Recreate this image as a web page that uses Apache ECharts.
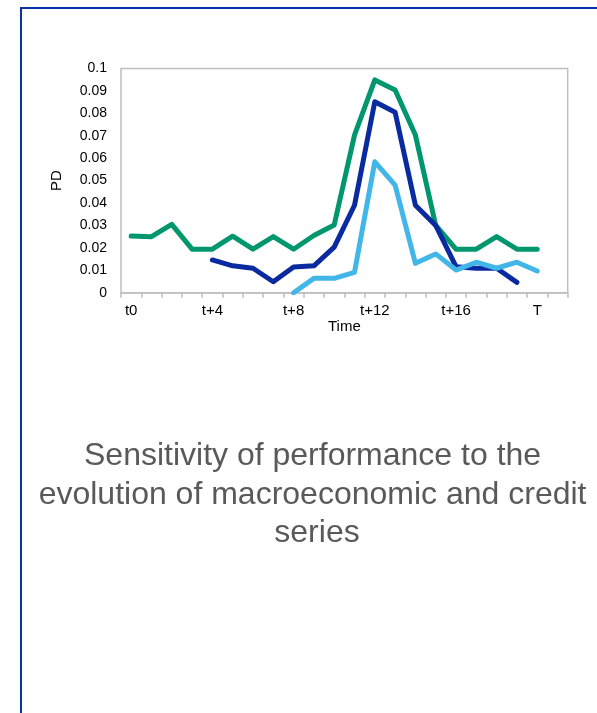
<!DOCTYPE html>
<html>
<head>
<meta charset="utf-8">
<script src="https://cdn.jsdelivr.net/npm/echarts@6/dist/echarts.min.js"></script>
<style>
  html, body { margin: 0; padding: 0; background: #ffffff; }
  #chart { width: 597px; height: 713px; }
</style>
</head>
<body>
<div id="chart"></div>
<script>
// Time periods (22 slots; labels shown every fourth)
const periods = ['t0', 't+1', 't+2', 't+3', 't+4', 't+5', 't+6', 't+7', 't+8', 't+9', 't+10',
  't+11', 't+12', 't+13', 't+14', 't+15', 't+16', 't+17', 't+18', 't+19', 'T', ''];

// PD paths
const pdGreen = [0.0253, 0.025, 0.0305, 0.0194, 0.0194, 0.0252, 0.0194, 0.025, 0.0194, 0.0255,
  0.0302, 0.0703, 0.0949, 0.0904, 0.0703, 0.030, 0.0194, 0.0194, 0.025, 0.0194, 0.0194, null];
const pdNavy = [null, null, null, null, 0.0146, 0.012, 0.0109, 0.0049, 0.0115, 0.012,
  0.0203, 0.039, 0.0852, 0.0805, 0.039, 0.030, 0.0116, 0.0109, 0.0109, 0.0046, null, null];
const pdLight = [null, null, null, null, null, null, null, null, 0.0, 0.0064,
  0.0064, 0.0091, 0.0584, 0.048, 0.0131, 0.0173, 0.0101, 0.0136, 0.0109, 0.0136, 0.0097, null];

// Caption lines (the first two keep their trailing space, as typed)
const titleLines = ['Sensitivity of performance to the ', 'evolution of macroeconomic and credit ', 'series'];

const chart = echarts.init(document.getElementById('chart'), null, { renderer: 'canvas' });

const fontFamily = 'Liberation Sans, Arial, sans-serif';

function lineSeries(name, data, color) {
  return {
    name: name,
    type: 'line',
    data: data,
    showSymbol: false,
    symbol: 'none',
    connectNulls: false,
    lineStyle: { color: color, width: 5, join: 'round', cap: 'round' },
    itemStyle: { color: color },
    z: 3
  };
}

chart.setOption({
  animation: false,
  backgroundColor: '#ffffff',
  title: {
    text: titleLines.join('\n'),
    left: 312,
    top: 432,
    textAlign: 'center',
    textStyle: {
      fontFamily: fontFamily,
      fontSize: 32,
      fontWeight: 'normal',
      color: '#595959',
      lineHeight: 38.5
    }
  },
  graphic: [{
    type: 'rect',
    shape: { x: 21, y: 8, width: 700, height: 800 },
    style: { fill: 'none', stroke: '#0a32a8', lineWidth: 2 },
    silent: true,
    z: 10
  }],
  grid: {
    left: 121,
    top: 68.5,
    right: 29.3,
    bottom: 420.3,
    show: true,
    borderColor: '#c0c0c0',
    borderWidth: 1.5,
    backgroundColor: 'transparent'
  },
  xAxis: {
    type: 'category',
    data: periods,
    boundaryGap: true,
    name: 'Time',
    nameLocation: 'middle',
    nameGap: 22,
    nameTextStyle: { fontFamily: fontFamily, fontSize: 15, color: '#000000' },
    axisLine: { show: true, lineStyle: { color: '#bfbfbf', width: 1.5 } },
    axisTick: { show: true, interval: 0, length: 5, alignWithLabel: false, lineStyle: { color: '#bfbfbf', width: 1.5 } },
    axisLabel: {
      interval: 3,
      margin: 11,
      fontFamily: fontFamily,
      fontSize: 15,
      color: '#000000'
    },
    splitLine: { show: false }
  },
  yAxis: {
    type: 'value',
    min: 0,
    max: 0.1,
    interval: 0.01,
    name: 'PD',
    nameLocation: 'middle',
    nameGap: 57,
    nameRotate: 90,
    nameTextStyle: { fontFamily: fontFamily, fontSize: 15, color: '#000000' },
    axisLine: { show: false },
    axisTick: { show: false },
    splitLine: { show: false },
    axisLabel: {
      margin: 14,
      fontFamily: fontFamily,
      fontSize: 14,
      color: '#000000',
      formatter: function (v) { return String(Math.round(v * 100) / 100); }
    }
  },
  series: [
    lineSeries('Scenario A', pdGreen, '#00966e'),
    lineSeries('Scenario B', pdNavy, '#0a2aa0'),
    lineSeries('Scenario C', pdLight, '#42b7e7')
  ]
});
</script>
</body>
</html>
